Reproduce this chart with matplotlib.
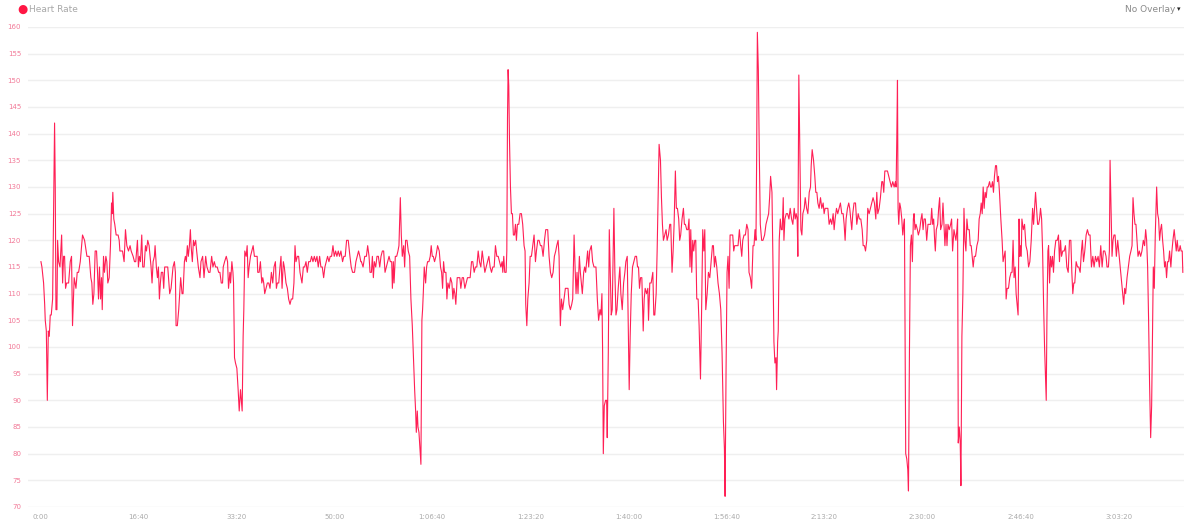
import matplotlib
matplotlib.use("Agg")
import matplotlib.pyplot as plt
from matplotlib.ticker import FuncFormatter

# ---- data: elapsed time (s) and heart rate (bpm) ----
seg1_t = [10,20,37,48,54,65,75,85,95,105,
          115,129,136,149,156,163,173,180,190,204,
          221,231,241,251,261,272,292,309,322,332,
          349,367,380,394,411,434,455,479,502,519,
          529,539,550,563,577,587,597,607,618,628,
          635,648,658,672,682,692,706,719,730,736,
          743,753,763,777,787,797,808,815,842,858,
          872,886,903,919,930,950,964,977,994,1004,
          1014,1025,1038,1048,1062,1076,1086,1099,1113,1123,
          1133,1143,1154,1167,1174,1187,1198,1208,1218,1228,
          1238,1252,1262,1272,1303,1323,1337,1357,1371,1381,
          1388,1401,1415,1435,1449,1459,1473,1483,1493,1503,
          1513,1524,1534,1541,1554,1565,1575,1588]
seg1_hr = [116,115,112,108,105,103,90,103,102,106,
           106,109,120,142,130,107,107,120,116,115,
           121,112,117,117,111,112,112,116,117,104,
           113,111,114,114,116,121,120,117,117,113,
           112,108,110,118,118,114,109,115,109,113,
           107,117,114,117,116,112,113,119,127,125,
           129,124,123,121,121,121,120,118,118,116,
           122,119,118,119,118,117,116,116,120,115,
           117,116,121,115,115,119,118,120,119,117,
           115,112,116,117,119,115,113,115,109,112,
           114,114,111,115,115,110,111,115,116,114,
           104,104,107,113,110,110,116,117,116,119,
           117,119,122,119,116,120,119,120]

seg2_t = [1598,1615,1632,1642,1659,1673,1690,1703,1720,1734,
          1751,1764,1778,1791,1808,1822,1835,1849,1862,1869,
          1883,1900,1913,1923,1937,1944,1957,1968,1974,1984,
          1994,2008,2021,2032,2045,2062,2072,2079,2089,2103,
          2113,2123,2133,2147,2160,2174,2187,2201,2215,2221,
          2235,2248,2262,2272,2282,2292,2306,2319,2333,2346,
          2360,2374,2387,2401,2411,2421,2435,2448,2458,2469,
          2482,2492,2509,2523,2536,2550,2563,2577,2590,2601,
          2611,2625,2638,2652,2672,2686,2699,2713,2726,2740,
          2757,2770,2784,2798,2811,2825,2838,2852,2865,2879,
          2893,2906,2920,2933,2947,2960,2974,2988,3001,3015,
          3028,3042,3055,3069,3086,3099,3113,3127,3144,3161,
          3174,3188,3208,3222,3235,3249,3262,3272]
seg2_hr = [118,115,113,116,117,113,117,115,114,114,
           117,115,116,115,115,114,114,112,112,115,
           116,117,116,111,114,112,116,114,112,98,
           97,96,92,88,92,88,102,107,118,117,
           119,113,115,117,118,119,117,117,117,114,
           114,116,112,113,112,110,111,112,112,111,
           114,112,115,116,111,112,112,115,117,111,
           116,115,112,111,109,108,109,109,112,119,
           116,117,117,114,112,115,115,116,114,116,
           116,117,116,117,116,117,115,117,115,115,
           113,115,116,117,116,117,117,119,117,118,
           117,118,117,118,116,117,117,120,120,117,
           115,114,114,116,117,118,117,116]

seg3_t = [3278,3295,3312,3329,3342,3356,3366,3380,3390,3400,
          3410,3424,3437,3451,3465,3478,3492,3505,3519,3532,
          3546,3560,3573,3587,3594,3604,3611,3624,3638,3651,
          3661,3675,3685,3695,3709,3719,3729,3743,3756,3770,
          3783,3797,3807,3821,3831,3838,3848,3855,3865,3875,
          3885,3895,3902,3909,3919,3933,3943,3953,3967,3980,
          3990,4001,4011,4024,4038,4055,4072,4085,4096,4106,
          4116,4126,4140,4150,4160,4174,4187,4201,4211,4221,
          4231,4241,4255,4268,4282,4292,4306,4319,4333,4346,
          4360,4374,4387,4401,4414,4428,4441,4455,4469,4482,
          4496,4510,4523,4537,4550,4564,4578,4591,4605,4618,
          4632,4645,4659,4673,4686,4700,4713,4720,4730,4740,
          4754,4761,4768,4774,4781,4788,4798,4808,4818,4828,
          4839,4849,4859,4869,4883,4896,4910,4923,4937,4947,
          4954]
seg3_hr = [116,115,117,117,119,117,114,114,117,113,
           116,115,117,117,115,117,118,118,114,115,
           116,117,116,116,111,116,112,117,117,118,
           119,128,121,117,119,115,120,120,118,117,
           109,104,99,92,88,84,88,85,84,81,
           78,105,107,110,115,112,115,116,116,117,
           119,117,117,116,117,119,118,115,114,111,
           116,114,114,109,112,111,113,112,109,111,
           110,108,113,113,113,111,113,113,111,112,
           113,113,113,116,116,114,115,115,118,116,
           115,118,116,114,115,116,117,115,114,115,
           115,119,117,117,116,115,116,114,117,114,
           114,118,143,152,149,139,130,125,125,121,
           121,123,120,123,123,125,125,123,119,118,
           108]

seg4_t = [4965,4975,4988,4999,5012,5026,5039,5053,5063,5077,
          5090,5104,5117,5131,5145,5158,5178,5192,5206,5219,
          5233,5246,5260,5270,5284,5294,5301,5307,5318,5331,
          5345,5358,5372,5385,5396,5409,5423,5433,5447,5457,
          5467,5477,5487,5501,5511,5521,5531,5545,5555,5565,
          5575,5585,5596,5606,5623,5636,5650,5670,5684,5697,
          5711,5721,5731,5738,5745,5755,5768,5779,5785,5796,
          5806,5816,5826,5836,5847,5853,5863,5874,5884,5897,
          5914,5924,5938,5952,5965,5975,5989,5999,6009,6019,
          6030,6043,6057,6070,6084,6094,6104,6114,6125,6138,
          6152,6162,6172,6186,6199,6206,6219,6233,6250,6260,
          6270,6284,6294,6304,6314,6328,6338,6348,6358,6372,
          6385,6396,6409,6423,6433,6446,6457,6467,6480,6490,
          6501,6514,6524,6534,6548,6562,6572,6582,6596,6609,
          6619,6629]
seg4_hr = [104,109,112,117,117,119,121,116,118,120,
           120,119,119,117,120,122,122,117,114,113,
           114,117,118,119,120,117,109,104,109,107,
           109,111,111,111,108,107,108,109,121,115,
           110,114,110,117,114,112,110,114,115,114,
           116,118,115,118,119,116,115,115,109,105,
           107,106,110,99,80,89,90,90,83,99,
           122,114,106,107,119,126,114,106,107,111,
           115,110,107,112,114,116,117,105,92,102,
           110,115,116,117,117,115,115,111,113,113,
           103,109,111,110,111,105,112,112,114,106,
           106,110,118,128,138,135,128,123,120,121,
           122,120,121,123,123,114,118,123,133,126,
           126,124,120,121,124,126,123,123,122,122,
           124,115]

seg5_t = [6637,6647,6657,6667,6678,6688,6698,6712,6722,6736,
          6746,6759,6770,6780,6790,6804,6817,6831,6844,6858,
          6868,6878,6888,6902,6915,6929,6943,6956,6970,6980,
          6987,6997,7007,7017,7028,7038,7051,7065,7075,7085,
          7102,7119,7133,7146,7157,7167,7180,7194,7208,7221,
          7231,7245,7258,7272,7282,7292,7302,7309,7316,7326,
          7336,7346,7360,7373,7390,7404,7417,7431,7441,7451,
          7465,7475,7485,7495,7506,7512,7523,7529,7539,7550,
          7560,7570,7580,7587,7597,7611,7624,7638,7651,7665,
          7678,7692,7702,7712,7722,7729,7739,7750,7760,7770,
          7780,7794,7804,7818,7831,7845,7858,7865,7875,7889,
          7902,7912,7923,7933,7946,7960,7973,7987,7997,8007,
          8021,8035,8048,8062,8075,8089,8099,8109,8123,8136,
          8150,8163,8177,8191,8201,8211,8221,8235,8248,8258,
          8269,8279,8289,8302]
seg5_hr = [122,114,120,118,120,120,109,109,104,94,
           105,122,118,122,107,110,114,113,116,119,
           119,115,117,115,112,110,107,99,86,81,
           72,96,114,117,111,121,121,121,118,119,
           119,119,122,119,117,120,121,121,123,122,
           114,113,111,119,119,122,120,136,159,152,
           136,123,120,120,121,123,124,125,128,132,
           129,116,101,97,98,92,101,103,120,124,
           122,122,128,120,124,125,125,124,126,124,
           123,126,124,125,124,117,151,136,122,121,
           125,126,128,126,125,129,130,134,137,135,
           132,129,129,127,126,128,126,127,125,126,
           126,126,123,124,123,125,122,124,126,125,
           126,127,125,125,123,120,124,126,127,126,
           124,122,125,127]

seg6_t = [8317,8330,8344,8357,8371,8385,8395,8408,8419,8432,
          8442,8456,8469,8483,8496,8510,8524,8534,8544,8558,
          8571,8585,8595,8605,8616,8629,8643,8656,8670,8683,
          8697,8711,8724,8731,8738,8745,8751,8758,8768,8778,
          8789,8799,8809,8816,8823,8829,8840,8850,8857,8867,
          8877,8887,8897,8907,8914,8924,8934,8948,8958,8972,
          8985,8995,9006,9016,9029,9043,9056,9070,9084,9094,
          9104,9114,9124,9131,9141,9155,9165,9175,9185,9199,
          9209,9219,9229,9240,9250,9260,9273,9287,9297,9307,
          9321,9331,9341,9351,9358,9365,9375,9385,9392,9402,
          9412,9423,9433,9443,9453,9463,9477,9487,9497,9507,
          9517,9528,9541,9555,9568,9578,9589,9599,9609,9619,
          9629,9639,9650,9660,9670,9684,9694,9704,9714,9724,
          9734,9745,9755,9765,9775,9785,9799,9812,9822,9833,
          9843,9853,9863,9877,9890,9904,9914,9924,9934,9945,
          9955,9965,9975,9985,9992]
seg6_hr = [127,123,125,124,124,122,119,119,118,120,
           126,125,126,127,128,127,124,129,125,126,
           128,131,131,129,133,133,133,132,131,130,
           131,130,131,130,139,150,126,123,127,126,
           124,121,123,124,99,80,79,77,73,99,
           119,121,116,124,125,122,123,122,121,122,
           124,125,122,124,124,120,123,123,123,126,
           123,124,120,118,122,123,126,128,122,123,
           127,123,119,123,119,123,122,123,124,118,
           122,121,120,122,124,82,85,82,74,102,
           110,126,120,118,124,122,122,119,119,117,
           115,117,117,119,120,124,125,127,125,130,
           126,129,128,130,130,131,130,130,131,129,
           132,134,134,131,132,129,124,120,116,117,
           118,109,111,111,113,114,114,120,113,115,
           110,108,106,124,117]

seg7_t = [9997,10007,10014,10028,10041,10055,10068,10082,10095,10109,
          10123,10133,10143,10153,10163,10174,10184,10194,10204,10215,
          10225,10235,10245,10255,10262,10269,10279,10286,10296,10306,
          10316,10326,10336,10347,10360,10374,10387,10397,10408,10418,
          10431,10445,10458,10472,10486,10499,10513,10523,10533,10543,
          10553,10567,10581,10594,10608,10621,10631,10642,10655,10669,
          10682,10696,10709,10723,10737,10750,10764,10777,10791,10804,
          10818,10832,10845,10859,10872,10882,10896,10906,10913,10923,
          10933,10943,10953,10964,10977,10991,11001,11011,11021,11031,
          11042,11052,11062,11072,11086,11099,11113,11126,11137,11147,
          11157,11167,11177,11187,11198,11211,11225,11238,11252,11265,
          11276,11286,11296,11306,11316,11327,11337,11347,11354,11364,
          11374,11388,11398,11408,11418,11428,11438,11449,11459,11469,
          11479,11489,11500,11510,11520,11533,11544,11554,11567,11577,
          11588,11598,11608,11618,11628,11638,11649,11655]
seg7_hr = [119,117,124,122,123,119,118,115,116,120,
           126,123,126,129,126,123,123,124,126,124,
           118,108,100,94,90,105,118,119,112,117,
           115,117,114,118,120,120,121,116,120,117,
           118,118,119,115,114,120,120,114,110,112,
           112,116,115,115,114,118,120,116,118,121,
           122,121,121,115,117,115,117,116,117,115,
           119,115,118,118,117,115,115,118,135,126,
           117,120,121,121,117,120,118,116,114,112,
           110,108,111,110,113,115,117,118,119,128,
           125,123,123,120,117,118,117,118,120,119,
           122,120,115,105,93,83,89,105,115,111,
           121,130,125,124,120,122,123,120,118,115,
           116,113,116,116,118,115,118,120,122,120,
           118,120,118,118,119,118,118,114]

time_s = seg1_t + seg2_t + seg3_t + seg4_t + seg5_t + seg6_t + seg7_t
heart_rate = seg1_hr + seg2_hr + seg3_hr + seg4_hr + seg5_hr + seg6_hr + seg7_hr
assert len(time_s) == len(heart_rate)

x_ticks = [0, 1000, 2000, 3000, 4000, 5000, 6000, 7000, 8000, 9000, 10000, 11000]
y_ticks = [70, 75, 80, 85, 90, 95, 100, 105, 110, 115, 120, 125, 130, 135,
           140, 145, 150, 155, 160]
series_name = "Heart Rate"
overlay_label = "No Overlay"

# ---- styling ----
LINE_RED = "#ff1f55"
W, H = 1200, 529

fig = plt.figure(figsize=(W / 100, H / 100), dpi=100)
fig.patch.set_facecolor("white")
left_px, right_px, top_px, bottom_px = 28, 1184, 27, 507
ax = fig.add_axes([left_px / W, 1 - bottom_px / H,
                   (right_px - left_px) / W, (bottom_px - top_px) / H])
ax.set_facecolor("white")

ax.plot(time_s, heart_rate, color=LINE_RED, lw=0.8, solid_joinstyle="round")

ax.set_ylim(70, 160)
ax.set_xlim(-122, 11667)
ax.set_yticks(y_ticks)
ax.set_xticks(x_ticks)


def fmt_time(v, pos=None):
    v = int(round(v))
    h, rem = divmod(v, 3600)
    m, s = divmod(rem, 60)
    if h:
        return f"{h}:{m:02d}:{s:02d}"
    return f"{m}:{s:02d}"


ax.xaxis.set_major_formatter(FuncFormatter(fmt_time))
ax.grid(axis="y", color="#efefef", lw=1.0)
ax.set_axisbelow(True)
for sp in ax.spines.values():
    sp.set_visible(False)
ax.tick_params(axis="both", length=0)
ax.tick_params(axis="y", labelsize=5, labelcolor="#f27a98", pad=5)
ax.tick_params(axis="x", labelsize=5, labelcolor="#aaaaaa", pad=5)

# legend (top-left)
fig.text(22 / W, 1 - 9 / H, "\u25CF", color="#ff1744", fontsize=8.5,
         ha="center", va="center")
fig.text(29 / W, 1 - 9 / H, series_name, color="#a8a8a8", fontsize=6.5,
         ha="left", va="center")

# overlay selector (top-right)
fig.text(1175 / W, 1 - 9 / H, overlay_label, color="#8a8a8a", fontsize=6.5,
         ha="right", va="center")
fig.text(1179 / W, 1 - 9.5 / H, "\u25BE", color="#222222", fontsize=5,
         ha="center", va="center")

fig.savefig("out.png", dpi=100, facecolor="white")
